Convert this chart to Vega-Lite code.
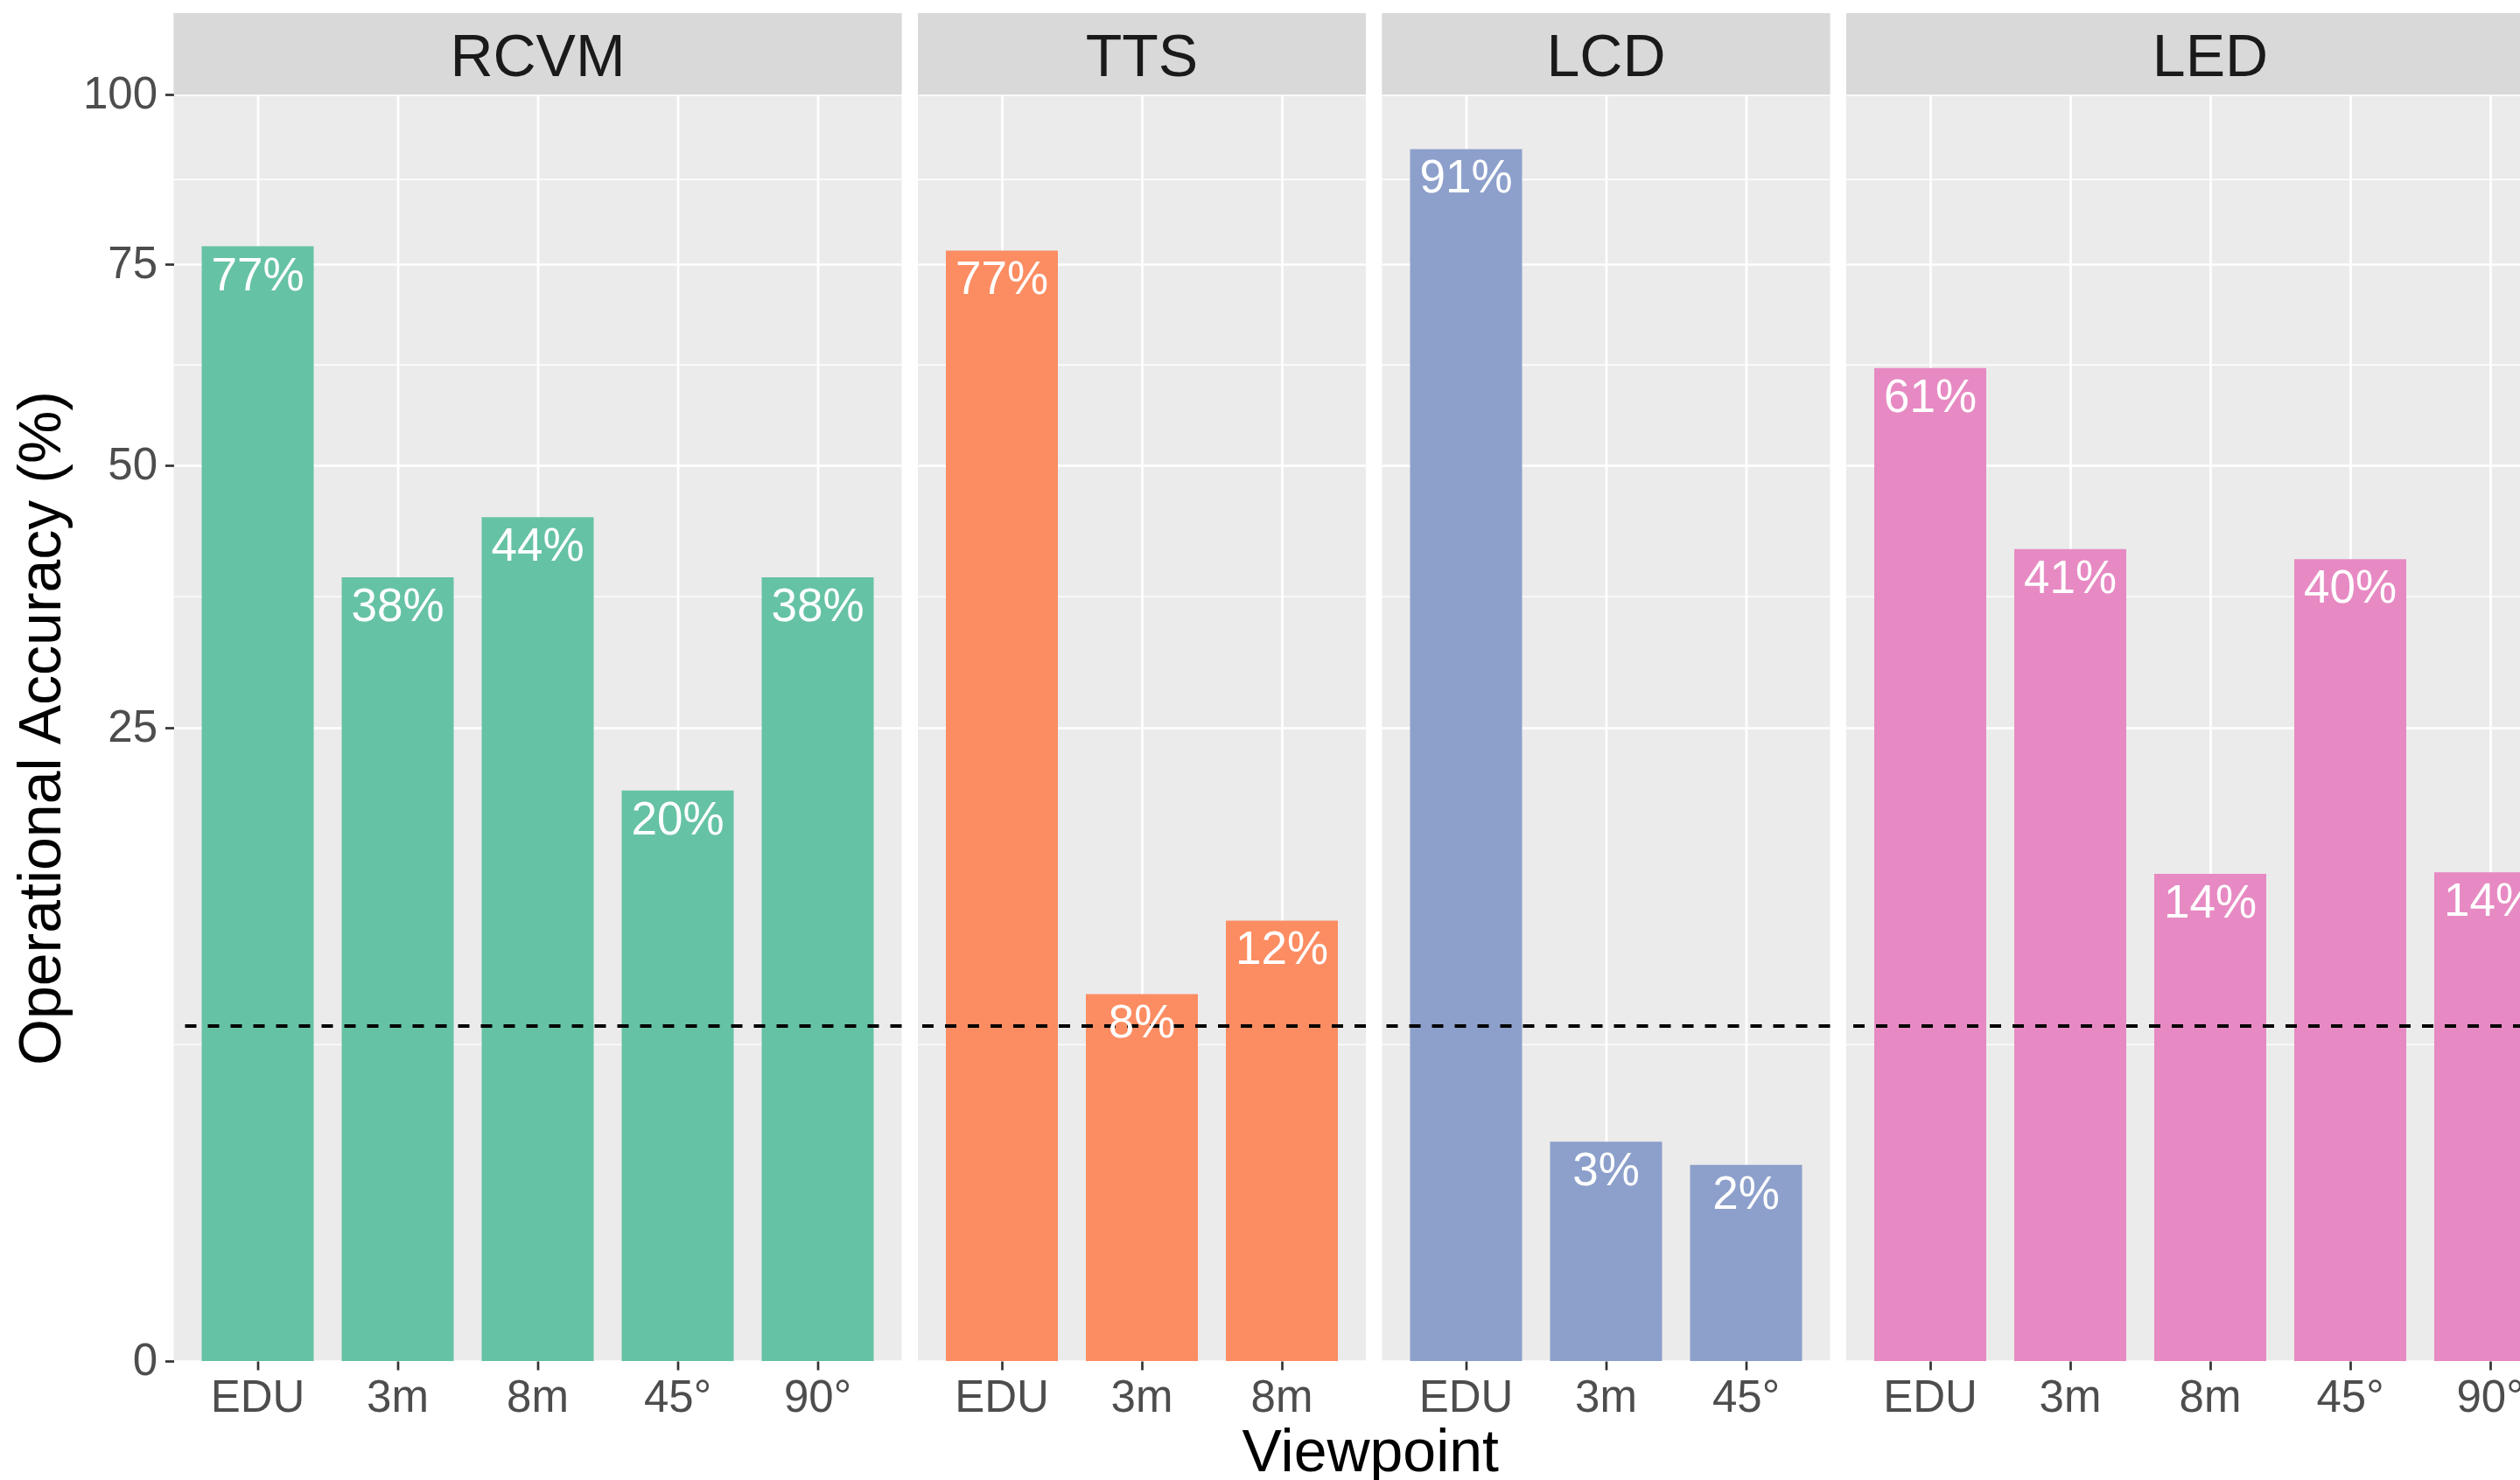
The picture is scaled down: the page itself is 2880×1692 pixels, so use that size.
{
  "$schema": "https://vega.github.io/schema/vega-lite/v6.json",
  "padding": {"left": 13.5, "top": 15, "right": 0, "bottom": 0},
  "background": "white",
  "datasets": {
    "bars": [
      {"tech": "RCVM", "view": "EDU", "value": 77.5, "label": "77%"},
      {"tech": "RCVM", "view": "3m", "value": 38.3, "label": "38%"},
      {"tech": "RCVM", "view": "8m", "value": 44.4, "label": "44%"},
      {"tech": "RCVM", "view": "45°", "value": 20.3, "label": "20%"},
      {"tech": "RCVM", "view": "90°", "value": 38.3, "label": "38%"},
      {"tech": "TTS", "view": "EDU", "value": 76.9, "label": "77%"},
      {"tech": "TTS", "view": "3m", "value": 8.4, "label": "8%"},
      {"tech": "TTS", "view": "8m", "value": 12.1, "label": "12%"},
      {"tech": "LCD", "view": "EDU", "value": 91.6, "label": "91%"},
      {"tech": "LCD", "view": "3m", "value": 3.0, "label": "3%"},
      {"tech": "LCD", "view": "45°", "value": 2.4, "label": "2%"},
      {"tech": "LED", "view": "EDU", "value": 61.5, "label": "61%"},
      {"tech": "LED", "view": "3m", "value": 41.1, "label": "41%"},
      {"tech": "LED", "view": "8m", "value": 14.8, "label": "14%"},
      {"tech": "LED", "view": "45°", "value": 40.1, "label": "40%"},
      {"tech": "LED", "view": "90°", "value": 14.9, "label": "14%"}
    ],
    "minor": [{"g": 6.25}, {"g": 36.43}, {"g": 61.87}, {"g": 87.05}],
    "chance": [{"chance": 7}],
    "strips": [{"tech": "RCVM"}, {"tech": "TTS"}, {"tech": "LCD"}, {"tech": "LED"}]
  },
  "title": {"text": "Viewpoint", "orient": "bottom", "anchor": "middle", "frame": "bounds", "dx": 88, "offset": 5, "fontSize": 68, "fontWeight": "normal", "color": "black", "font": "Liberation Sans"},
  "spacing": 18.5,
  "bounds": "flush",
  "hconcat": [
    {
      "width": 832, "height": 1541,
      "layer": [
        {"data": {"name": "minor"}, "mark": {"type": "rule", "color": "white", "strokeWidth": 1.3},
         "encoding": {"y": {"field": "g", "type": "quantitative", "scale": {"type": "sqrt", "domain": [0, 113.3], "nice": false}, "axis": {"values": [0, 25, 50, 75, 100], "title": "Operational Accuracy (%)", "titleY": 817, "labelFlush": false, "titlePadding": 12, "labelPadding": 9}}}},
        {"data": {"name": "bars"}, "transform": [{"filter": {"field": "tech", "equal": "RCVM"}}], "mark": {"type": "bar", "clip": true},
         "encoding": {"x": {"field": "view", "type": "nominal", "sort": null, "scale": {"domain": ["EDU", "3m", "8m", "45°", "90°"], "paddingInner": 0.2, "paddingOuter": 0.2}},
                      "y": {"field": "value", "type": "quantitative"},
                      "color": {"field": "tech", "type": "nominal", "scale": {"domain": ["RCVM", "TTS", "LCD", "LED"], "range": ["#66C2A5", "#FC8D62", "#8DA0CB", "#E78AC3"]}, "legend": null}}},
        {"data": {"name": "chance"}, "mark": {"type": "rule", "strokeDash": [13, 13], "strokeWidth": 4, "color": "black"},
         "encoding": {"y": {"field": "chance", "type": "quantitative"}}},
        {"data": {"name": "bars"}, "transform": [{"filter": {"field": "tech", "equal": "RCVM"}}], "mark": {"type": "text", "color": "white", "fontSize": 53, "baseline": "alphabetic", "dy": 50, "clip": true},
         "encoding": {"x": {"field": "view", "type": "nominal", "sort": null}, "y": {"field": "value", "type": "quantitative"}, "text": {"field": "label"}}},
        {"data": {"name": "strips"}, "transform": [{"filter": {"field": "tech", "equal": "RCVM"}}], "mark": {"type": "rect", "color": "#D9D9D9"},
         "encoding": {"y": {"datum": 100, "type": "quantitative"}, "y2": {"datum": 113.3}}},
        {"data": {"name": "strips"}, "transform": [{"filter": {"field": "tech", "equal": "RCVM"}}], "mark": {"type": "text", "fontSize": 68, "color": "#1A1A1A", "baseline": "alphabetic"},
         "encoding": {"x": {"datum": "8m", "type": "nominal"}, "y": {"datum": 103.0, "type": "quantitative"}, "text": {"field": "tech"}}}
      ]
    },
    {
      "width": 512, "height": 1541,
      "layer": [
        {"data": {"name": "minor"}, "mark": {"type": "rule", "color": "white", "strokeWidth": 1.3},
         "encoding": {"y": {"field": "g", "type": "quantitative", "scale": {"type": "sqrt", "domain": [0, 113.3], "nice": false}, "axis": {"values": [0, 25, 50, 75, 100], "labels": false, "ticks": false, "title": null}}}},
        {"data": {"name": "bars"}, "transform": [{"filter": {"field": "tech", "equal": "TTS"}}], "mark": {"type": "bar", "clip": true},
         "encoding": {"x": {"field": "view", "type": "nominal", "sort": null, "scale": {"domain": ["EDU", "3m", "8m"], "paddingInner": 0.2, "paddingOuter": 0.2}},
                      "y": {"field": "value", "type": "quantitative"},
                      "color": {"field": "tech", "type": "nominal", "scale": {"domain": ["RCVM", "TTS", "LCD", "LED"], "range": ["#66C2A5", "#FC8D62", "#8DA0CB", "#E78AC3"]}, "legend": null}}},
        {"data": {"name": "chance"}, "mark": {"type": "rule", "strokeDash": [13, 13], "strokeWidth": 4, "color": "black"},
         "encoding": {"y": {"field": "chance", "type": "quantitative"}}},
        {"data": {"name": "bars"}, "transform": [{"filter": {"field": "tech", "equal": "TTS"}}], "mark": {"type": "text", "color": "white", "fontSize": 53, "baseline": "alphabetic", "dy": 50, "clip": true},
         "encoding": {"x": {"field": "view", "type": "nominal", "sort": null}, "y": {"field": "value", "type": "quantitative"}, "text": {"field": "label"}}},
        {"data": {"name": "strips"}, "transform": [{"filter": {"field": "tech", "equal": "TTS"}}], "mark": {"type": "rect", "color": "#D9D9D9"},
         "encoding": {"y": {"datum": 100, "type": "quantitative"}, "y2": {"datum": 113.3}}},
        {"data": {"name": "strips"}, "transform": [{"filter": {"field": "tech", "equal": "TTS"}}], "mark": {"type": "text", "fontSize": 68, "color": "#1A1A1A", "baseline": "alphabetic"},
         "encoding": {"x": {"datum": "3m", "type": "nominal"}, "y": {"datum": 103.0, "type": "quantitative"}, "text": {"field": "tech"}}}
      ]
    },
    {
      "width": 512, "height": 1541,
      "layer": [
        {"data": {"name": "minor"}, "mark": {"type": "rule", "color": "white", "strokeWidth": 1.3},
         "encoding": {"y": {"field": "g", "type": "quantitative", "scale": {"type": "sqrt", "domain": [0, 113.3], "nice": false}, "axis": {"values": [0, 25, 50, 75, 100], "labels": false, "ticks": false, "title": null}}}},
        {"data": {"name": "bars"}, "transform": [{"filter": {"field": "tech", "equal": "LCD"}}], "mark": {"type": "bar", "clip": true},
         "encoding": {"x": {"field": "view", "type": "nominal", "sort": null, "scale": {"domain": ["EDU", "3m", "45°"], "paddingInner": 0.2, "paddingOuter": 0.2}},
                      "y": {"field": "value", "type": "quantitative"},
                      "color": {"field": "tech", "type": "nominal", "scale": {"domain": ["RCVM", "TTS", "LCD", "LED"], "range": ["#66C2A5", "#FC8D62", "#8DA0CB", "#E78AC3"]}, "legend": null}}},
        {"data": {"name": "chance"}, "mark": {"type": "rule", "strokeDash": [13, 13], "strokeWidth": 4, "color": "black"},
         "encoding": {"y": {"field": "chance", "type": "quantitative"}}},
        {"data": {"name": "bars"}, "transform": [{"filter": {"field": "tech", "equal": "LCD"}}], "mark": {"type": "text", "color": "white", "fontSize": 53, "baseline": "alphabetic", "dy": 50, "clip": true},
         "encoding": {"x": {"field": "view", "type": "nominal", "sort": null}, "y": {"field": "value", "type": "quantitative"}, "text": {"field": "label"}}},
        {"data": {"name": "strips"}, "transform": [{"filter": {"field": "tech", "equal": "LCD"}}], "mark": {"type": "rect", "color": "#D9D9D9"},
         "encoding": {"y": {"datum": 100, "type": "quantitative"}, "y2": {"datum": 113.3}}},
        {"data": {"name": "strips"}, "transform": [{"filter": {"field": "tech", "equal": "LCD"}}], "mark": {"type": "text", "fontSize": 68, "color": "#1A1A1A", "baseline": "alphabetic"},
         "encoding": {"x": {"datum": "3m", "type": "nominal"}, "y": {"datum": 103.0, "type": "quantitative"}, "text": {"field": "tech"}}}
      ]
    },
    {
      "width": 775, "height": 1541,
      "layer": [
        {"data": {"name": "minor"}, "mark": {"type": "rule", "color": "white", "strokeWidth": 1.3},
         "encoding": {"y": {"field": "g", "type": "quantitative", "scale": {"type": "sqrt", "domain": [0, 113.3], "nice": false}, "axis": {"values": [0, 25, 50, 75, 100], "labels": false, "ticks": false, "title": null}}}},
        {"data": {"name": "bars"}, "transform": [{"filter": {"field": "tech", "equal": "LED"}}], "mark": {"type": "bar", "clip": true},
         "encoding": {"x": {"field": "view", "type": "nominal", "sort": null, "scale": {"domain": ["EDU", "3m", "8m", "45°", "90°"], "range": [0, 832], "paddingInner": 0.2, "paddingOuter": 0.2}},
                      "y": {"field": "value", "type": "quantitative"},
                      "color": {"field": "tech", "type": "nominal", "scale": {"domain": ["RCVM", "TTS", "LCD", "LED"], "range": ["#66C2A5", "#FC8D62", "#8DA0CB", "#E78AC3"]}, "legend": null}}},
        {"data": {"name": "chance"}, "mark": {"type": "rule", "strokeDash": [13, 13], "strokeWidth": 4, "color": "black"},
         "encoding": {"y": {"field": "chance", "type": "quantitative"}}},
        {"data": {"name": "bars"}, "transform": [{"filter": {"field": "tech", "equal": "LED"}}], "mark": {"type": "text", "color": "white", "fontSize": 53, "baseline": "alphabetic", "dy": 50, "clip": true},
         "encoding": {"x": {"field": "view", "type": "nominal", "sort": null}, "y": {"field": "value", "type": "quantitative"}, "text": {"field": "label"}}},
        {"data": {"name": "strips"}, "transform": [{"filter": {"field": "tech", "equal": "LED"}}], "mark": {"type": "rect", "color": "#D9D9D9"},
         "encoding": {"y": {"datum": 100, "type": "quantitative"}, "y2": {"datum": 113.3}}},
        {"data": {"name": "strips"}, "transform": [{"filter": {"field": "tech", "equal": "LED"}}], "mark": {"type": "text", "fontSize": 68, "color": "#1A1A1A", "baseline": "alphabetic"},
         "encoding": {"x": {"datum": "8m", "type": "nominal"}, "y": {"datum": 103.0, "type": "quantitative"}, "text": {"field": "tech"}}}
      ]
    }
  ],
  "config": {
    "font": "Liberation Sans",
    "view": {"fill": "#EBEBEB", "stroke": null},
    "axis": {"domain": false, "grid": true, "gridColor": "white", "gridWidth": 2.7, "tickColor": "#333333", "tickWidth": 2.7, "tickSize": 10, "labelColor": "#4D4D4D", "labelFontSize": 51, "labelFont": "Liberation Sans", "titleFont": "Liberation Sans", "titleFontSize": 68, "titleFontWeight": "normal", "titleColor": "black"},
    "axisX": {"labelAngle": 0, "labelPadding": 7, "title": null},
    "axisY": {"labelPadding": 9}
  }
}
